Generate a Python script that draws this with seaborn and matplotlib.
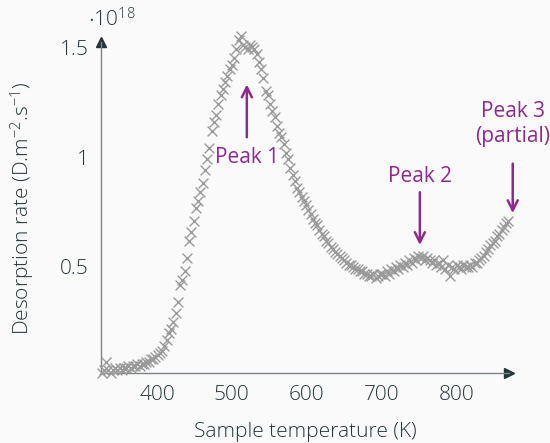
import numpy as np
import pandas as pd
import matplotlib
matplotlib.use('Agg')
import matplotlib.pyplot as plt
import seaborn as sns

# 数据（温度 K，脱附速率 ×1e18）
temperature = [
    326, 329, 332, 335, 338, 341, 344, 347, 350, 353, 356, 359, 362, 365, 368, 371, 374, 377, 380, 383, 386, 389, 392, 395, 398,
    401, 404, 407, 410, 413, 416, 419, 422, 425, 428, 431, 434, 437, 440, 443, 446, 449, 452, 455, 458,
    461, 464, 467, 470, 473, 476, 479, 482, 485, 488, 491, 494, 497, 500, 503, 506, 509, 512, 515, 518,
    521, 524, 527, 530, 533, 536, 539, 542, 545, 548, 551, 554, 557, 560,
    563, 566, 569, 572, 575, 578, 581, 584, 587, 590, 593, 596, 599, 602, 605, 608, 611, 614, 617, 620,
    623, 626, 629, 632, 635, 638, 641, 644, 647, 650, 653, 656, 659, 662, 665, 668, 671, 674, 677, 680, 683, 686, 689, 692, 695, 698,
    701, 704, 707, 710, 713, 716, 719, 722, 725, 728, 731, 734, 737, 740, 743, 746, 749, 752, 755, 758, 761, 764, 767, 770, 773, 776,
    779, 782, 785, 788, 791, 794, 797, 800,
    803, 806, 809, 812, 815, 818, 821, 824, 827, 830, 833, 836, 839, 842, 845, 848, 851, 854, 857, 860, 863, 866, 869,
]
rate = [
    0.02, 0.03, 0.07, 0.03, 0.02, 0.03, 0.04, 0.03, 0.04, 0.03, 0.04, 0.04, 0.05, 0.04, 0.05, 0.05, 0.06, 0.05, 0.06, 0.06, 0.07, 0.07, 0.08, 0.08, 0.09,
    0.10, 0.11, 0.12, 0.14, 0.17, 0.20, 0.22, 0.25, 0.29, 0.34, 0.42, 0.44, 0.48, 0.54, 0.62, 0.66, 0.71, 0.77, 0.80, 0.84,
    0.88, 0.94, 0.99, 1.04, 1.12, 1.16, 1.19, 1.24, 1.28, 1.31, 1.34, 1.37, 1.40, 1.42, 1.45, 1.49, 1.53, 1.55, 1.51, 1.50,
    1.49, 1.51, 1.50, 1.49, 1.47, 1.43, 1.40, 1.36, 1.30, 1.28, 1.24, 1.21, 1.18, 1.14,
    1.11, 1.09, 1.06, 1.02, 0.99, 0.95, 0.92, 0.89, 0.86, 0.84, 0.82, 0.80, 0.78, 0.76, 0.74, 0.72, 0.70, 0.69, 0.67, 0.65,
    0.64, 0.62, 0.61, 0.59, 0.58, 0.57, 0.56, 0.55, 0.54, 0.53, 0.52, 0.51, 0.51, 0.50, 0.49, 0.49, 0.48, 0.48, 0.47, 0.47, 0.46, 0.46, 0.47, 0.45, 0.46, 0.47,
    0.47, 0.46, 0.48, 0.47, 0.49, 0.48, 0.50, 0.49, 0.51, 0.50, 0.52, 0.51, 0.53, 0.52, 0.54, 0.53, 0.55, 0.54, 0.55, 0.53, 0.54, 0.53, 0.52, 0.53, 0.51, 0.52,
    0.50, 0.53, 0.49, 0.51, 0.46, 0.50, 0.49, 0.51,
    0.50, 0.49, 0.51, 0.50, 0.50, 0.51, 0.50, 0.52, 0.52, 0.53, 0.54, 0.55, 0.57, 0.58, 0.60, 0.61, 0.62, 0.64, 0.65, 0.67, 0.68, 0.70, 0.71,
]

x_ticks = [400, 500, 600, 700, 800]
y_ticks = [0.5, 1.0, 1.5]
y_tick_labels = ['0.5', '1', '1.5']

# 峰标注：(文字, 文字位置, 箭头起点, 箭头终点)
peaks = [
    ('Peak 1', (520, 1.00), (520, 1.09), (520, 1.33)),
    ('Peak 2', (751, 0.91), (751, 0.84), (751, 0.60)),
    ('Peak 3\n(partial)', (875, 1.15), (875, 0.97), (875, 0.745)),
]

df = pd.DataFrame({'temperature': temperature, 'rate': rate})

text_color = '#23373b'
axis_color = '#7a8587'
purple = '#8e2a8e'
bg = '#fafafa'

sns.set_style('white')
plt.rcParams['font.family'] = ['Open Sans', 'DejaVu Sans']
plt.rcParams['font.weight'] = 'light'
plt.rcParams['mathtext.fontset'] = 'custom'
plt.rcParams['mathtext.rm'] = 'Open Sans:light'
plt.rcParams['mathtext.it'] = 'Open Sans:light'

fig = plt.figure(figsize=(5.5, 4.43), dpi=100, facecolor=bg)
ax = fig.add_axes([101 / 550, 70 / 443, 408 / 550, 331 / 443])
ax.set_facecolor(bg)

sns.scatterplot(data=df, x='temperature', y='rate', marker='x', color='#9a9a9a',
                s=50, linewidth=1.0, ax=ax, clip_on=False, zorder=3)

ax.set_xlim(325.3, 870)
ax.set_ylim(0.018, 1.523)
ax.set_xticks(x_ticks)
ax.set_yticks(y_ticks)
ax.set_yticklabels(y_tick_labels)
ax.tick_params(direction='inout', length=8, width=0.8, color=axis_color,
               labelsize=15, labelcolor=text_color, pad=5)
ax.set_xlabel('')
ax.set_ylabel('')

for s in ['top', 'right']:
    ax.spines[s].set_visible(False)
for s in ['left', 'bottom']:
    ax.spines[s].set_color(axis_color)
    ax.spines[s].set_linewidth(1.0)

# 坐标轴箭头
ax.plot(1, 0, marker='>', color=text_color, markersize=7, transform=ax.transAxes, clip_on=False)
ax.plot(0, 1, marker='^', color=text_color, markersize=7, transform=ax.transAxes, clip_on=False)

for label, txt_pos, start, end in peaks:
    ax.text(txt_pos[0], txt_pos[1], label, color=purple, fontsize=15, ha='center',
            va='center', linespacing=1.2, clip_on=False, fontweight='normal')
    ax.annotate('', xy=end, xytext=start,
                arrowprops=dict(arrowstyle='->', color=purple, lw=1.8,
                                mutation_scale=18, shrinkA=0, shrinkB=0),
                annotation_clip=False)

fig.text(88 / 550, 1 - 20 / 443, r'$\cdot 10^{18}$', color=text_color, fontsize=15,
         ha='left', va='center')
fig.text(23 / 550, 1 - 208 / 443, r'Desorption rate (D.m$^{-2}$.s$^{-1}$)', color=text_color,
         fontsize=15, rotation=90, ha='center', va='center')
fig.text(305 / 550, 1 - 432 / 443, 'Sample temperature (K)', color=text_color,
         fontsize=15, ha='center', va='center')

fig.savefig('out.png', dpi=100, facecolor=bg)
plt.close()
